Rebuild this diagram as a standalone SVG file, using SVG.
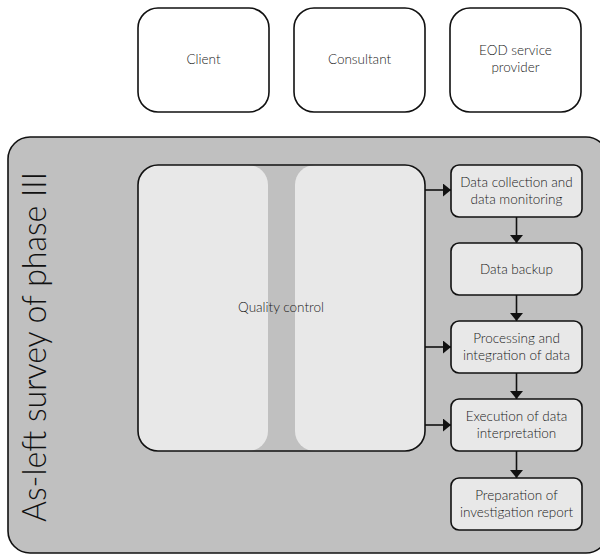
<svg xmlns="http://www.w3.org/2000/svg" width="600" height="554" viewBox="0 0 600 554">
  <style>
    .lbl { font-family: "Lato", "Liberation Sans", sans-serif; font-weight: 300; font-size: 13.5px; fill: #1a1a1a; text-anchor: middle; }
    .top { fill: #ffffff; stroke: #111; stroke-width: 1.6; }
    .step { fill: #e8e8e8; stroke: #111; stroke-width: 1.6; }
    .edge { fill: none; stroke: #111; stroke-width: 1.6; }
  </style>
  <defs>
    <marker id="arrow" viewBox="0 0 8 13" refX="8" refY="6.5" markerWidth="8" markerHeight="13" markerUnits="userSpaceOnUse" orient="auto">
      <path d="M0,0 L8,6.5 L0,13 z" fill="#111"/>
    </marker>
  </defs>

  <rect width="600" height="554" fill="#ffffff"/>

  <!-- Stakeholders -->
  <g id="client">
    <rect class="top" x="138" y="8" width="131" height="104" rx="20"/>
    <text class="lbl" x="203.5" y="64">Client</text>
  </g>
  <g id="consultant">
    <rect class="top" x="294" y="8" width="131" height="104" rx="20"/>
    <text class="lbl" x="359.5" y="64">Consultant</text>
  </g>
  <g id="eod-provider">
    <rect class="top" x="450" y="8" width="131" height="104" rx="20"/>
    <text class="lbl" x="515.5" y="55">EOD service</text>
    <text class="lbl" x="515.5" y="72">provider</text>
  </g>

  <!-- Phase container -->
  <g id="phase">
    <rect x="8" y="137" width="600" height="416" rx="22" fill="#c0c0c0" stroke="#111" stroke-width="1.6"/>
    <text x="-347" y="46" transform="rotate(-90)" font-family="Lato, 'Liberation Sans', sans-serif" font-weight="300" font-size="33" fill="#111" text-anchor="middle" textLength="350" lengthAdjust="spacingAndGlyphs">As-left survey of phase III</text>
  </g>

  <!-- Quality control -->
  <g id="quality-control">
    <rect x="138" y="165" width="130" height="286" rx="20" fill="#e8e8e8"/>
    <rect x="295" y="165" width="130" height="286" rx="20" fill="#e8e8e8"/>
    <rect x="138" y="165" width="287" height="286" rx="20" fill="none" stroke="#111" stroke-width="1.6"/>
    <text class="lbl" x="281" y="312">Quality control</text>
  </g>

  <!-- Workflow steps -->
  <g id="data-collection">
    <rect class="step" x="451" y="165" width="131" height="52" rx="8"/>
    <text class="lbl" x="516.5" y="187">Data collection and</text>
    <text class="lbl" x="516.5" y="204">data monitoring</text>
  </g>
  <g id="data-backup">
    <rect class="step" x="451" y="243" width="131" height="52" rx="8"/>
    <text class="lbl" x="516.5" y="274">Data backup</text>
  </g>
  <g id="processing">
    <rect class="step" x="451" y="321" width="131" height="52" rx="8"/>
    <text class="lbl" x="516.5" y="343">Processing and</text>
    <text class="lbl" x="516.5" y="360">integration of data</text>
  </g>
  <g id="interpretation">
    <rect class="step" x="451" y="399" width="131" height="52" rx="8"/>
    <text class="lbl" x="516.5" y="421">Execution of data</text>
    <text class="lbl" x="516.5" y="438">interpretation</text>
  </g>
  <g id="report">
    <rect class="step" x="451" y="478" width="131" height="52" rx="8"/>
    <text class="lbl" x="516.5" y="500">Preparation of</text>
    <text class="lbl" x="516.5" y="517">investigation report</text>
  </g>

  <!-- Connectors -->
  <g id="connectors" class="edge">
    <line x1="425" y1="190" x2="451" y2="190" marker-end="url(#arrow)"/>
    <line x1="425" y1="347" x2="451" y2="347" marker-end="url(#arrow)"/>
    <line x1="425" y1="425" x2="451" y2="425" marker-end="url(#arrow)"/>
    <line x1="516.5" y1="217" x2="516.5" y2="243" marker-end="url(#arrow)"/>
    <line x1="516.5" y1="295" x2="516.5" y2="321" marker-end="url(#arrow)"/>
    <line x1="516.5" y1="373" x2="516.5" y2="399" marker-end="url(#arrow)"/>
    <line x1="516.5" y1="451" x2="516.5" y2="478" marker-end="url(#arrow)"/>
  </g>
</svg>
